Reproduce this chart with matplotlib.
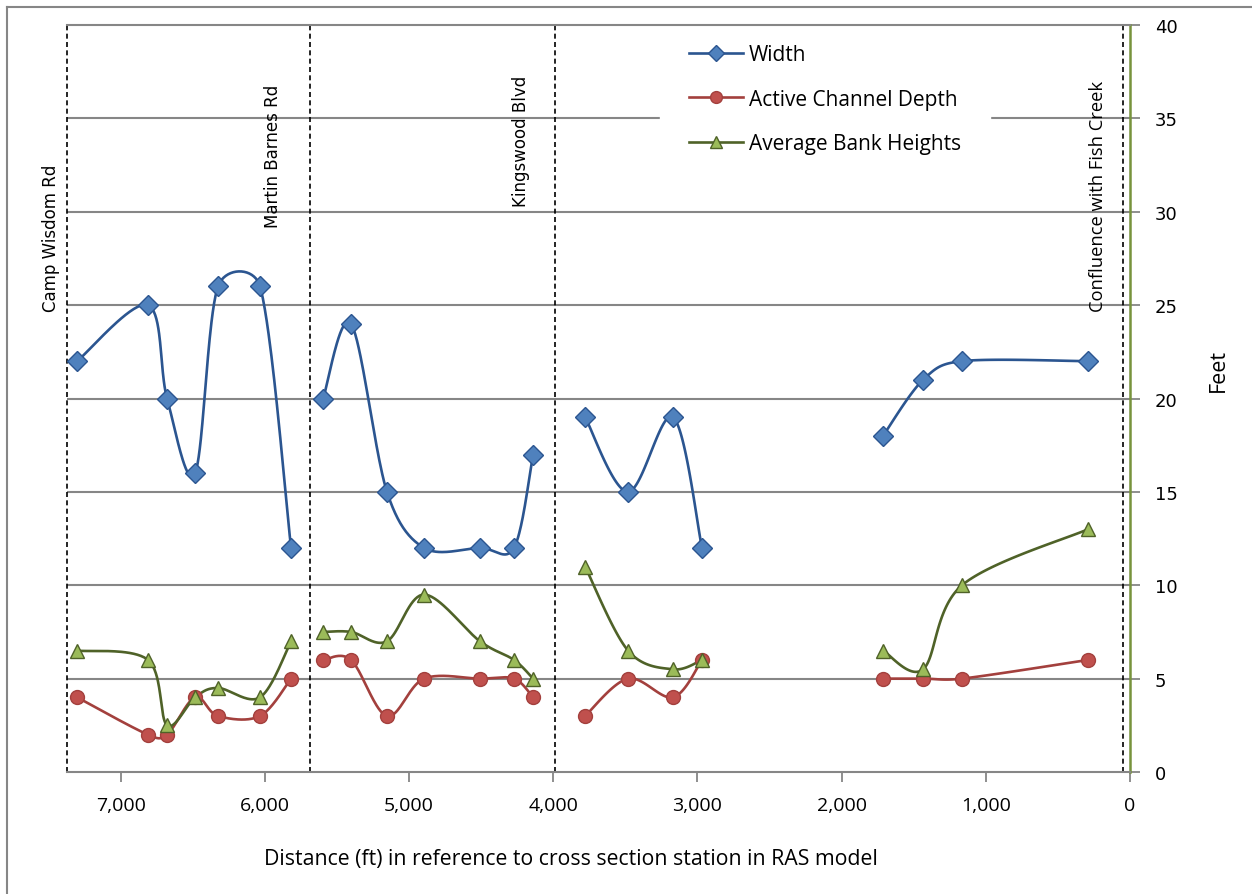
import numpy as np
import matplotlib
matplotlib.use("Agg")
import matplotlib.pyplot as plt
from matplotlib.lines import Line2D

# stations (ft), four reaches separated by gaps
station = [7302, 6810, 6678, 6484, 6325, 6033, 5818,
           5596, 5402, 5153, 4896, 4508, 4272, 4140,
           3779, 3481, 3169, 2968,
           1713, 1435, 1165, 291]
reach_sizes = [7, 7, 4, 4]

width = [22, 25, 20, 16, 26, 26, 12,
         20, 24, 15, 12, 12, 12, 17,
         19, 15, 19, 12,
         18, 21, 22, 22]
depth = [4, 2, 2, 4, 3, 3, 5,
         6, 6, 3, 5, 5, 5, 4,
         3, 5, 4, 6,
         5, 5, 5, 6]
bank = [6.5, 6, 2.5, 4, 4.5, 4, 7,
        7.5, 7.5, 7, 9.5, 7, 6, 5,
        11, 6.5, 5.5, 6,
        6.5, 5.5, 10, 13]

road_names = ["Camp Wisdom Rd", "Martin Barnes Rd", "Kingswood Blvd",
              "Confluence with Fish Creek"]
road_x = [7372, 5690, 3990, 50]

x_ticks = [7000, 6000, 5000, 4000, 3000, 2000, 1000, 0]
y_ticks = [0, 5, 10, 15, 20, 25, 30, 35, 40]

W, H = 1252, 895
AX_L, AX_R, AX_T, AX_B = 67, 1130, 26, 773
X_MAX, Y_MAX = 7372, 40
PX_X = (AX_R - AX_L) / X_MAX   # pixels per ft
PX_Y = (AX_B - AX_T) / Y_MAX   # pixels per foot of height

GRID = "#868686"
SANS = ["Open Sans", "DejaVu Sans"]


def excel_smooth(xs, ys, n=40):
    """Bezier smoothing similar to Excel's 'smoothed line', done in pixel space."""
    pts = np.column_stack([np.asarray(xs, float) * PX_X, np.asarray(ys, float) * PX_Y])
    k = len(pts)
    out = [pts[0]]
    t = np.linspace(0, 1, n)[1:, None]
    for i in range(k - 1):
        p0, p1 = pts[max(i - 1, 0)], pts[i]
        p2, p3 = pts[i + 1], pts[min(i + 2, k - 1)]
        half = np.linalg.norm(p2 - p1) / 2
        v1 = (p2 - p0) / 6
        v2 = (p3 - p1) / 6
        if np.linalg.norm(v1) > half:
            v1 = v1 * half / np.linalg.norm(v1)
        if np.linalg.norm(v2) > half:
            v2 = v2 * half / np.linalg.norm(v2)
        c1, c2 = p1 + v1, p2 - v2
        b = (1 - t) ** 3 * p1 + 3 * (1 - t) ** 2 * t * c1 + 3 * (1 - t) * t ** 2 * c2 + t ** 3 * p2
        out.extend(b)
    out = np.array(out)
    return out[:, 0] / PX_X, out[:, 1] / PX_Y


series = [
    ("Width", width, "#2B5590", "#4F81BD", "#2B5590", "D", 10),
    ("Active Channel Depth", depth, "#A3403D", "#C0504D", "#A3403D", "o", 10),
    ("Average Bank Heights", bank, "#4F6228", "#9BBB59", "#4F6228", "^", 10),
]

fig = plt.figure(figsize=(W / 100, H / 100), dpi=100)
ax = fig.add_axes([AX_L / W, 1 - AX_B / H, (AX_R - AX_L) / W, (AX_B - AX_T) / H])

# horizontal gridlines
for yv in y_ticks[1:-1]:
    ax.axhline(yv, color=GRID, lw=1.5, zorder=1)

# road crossings
for xv in road_x:
    ax.axvline(xv, color="black", lw=1.2, ls=(0, (3, 2)), zorder=2, clip_on=False)

handles = []
for name, vals, lc, fc, ec, mk, ms in series:
    start = 0
    for size in reach_sizes:
        xs = station[start:start + size]
        ys = vals[start:start + size]
        sx, sy = excel_smooth(xs, ys)
        ax.plot(sx, sy, color=lc, lw=1.9, zorder=3, solid_capstyle="round")
        ax.plot(xs, ys, ls="none", marker=mk, ms=ms, mfc=fc, mec=ec, mew=1.0, zorder=4)
        start += size
    handles.append(Line2D([], [], color=lc, lw=1.9, marker=mk, ms=ms - 1.5, mfc=fc, mec=ec, mew=1.0))

ax.set_xlim(X_MAX, 0)
ax.set_ylim(0, Y_MAX)

ax.set_xticks(x_ticks)
ax.set_xticklabels([f"{v:,}" for v in x_ticks], fontsize=14, family=SANS)
ax.set_yticks(y_ticks)
ax.set_yticklabels([str(v) for v in y_ticks], fontsize=13, family="DejaVu Sans")
ax.yaxis.tick_right()
ax.tick_params(axis="x", direction="out", length=7, width=1.3, color=GRID, pad=10)
ax.tick_params(axis="y", direction="out", length=7, width=1.3, color=GRID, pad=11)

ax.spines["left"].set_visible(False)
ax.spines["top"].set_color(GRID)
ax.spines["top"].set_linewidth(1.5)
ax.spines["top"].set_zorder(10)
ax.spines["bottom"].set_color(GRID)
ax.spines["bottom"].set_linewidth(1.5)
ax.spines["right"].set_color("#77933C")
ax.spines["right"].set_linewidth(1.8)

# road labels
label_right = [7420, 5881, 4161, 160]
label_bottom = [24.7, 29.2, 30.3, 24.7]
for i, name in enumerate(road_names):
    fam = SANS if i == 3 else "DejaVu Sans"
    fs = 13.2 if i == 3 else 12
    ax.text(label_right[i], label_bottom[i], name, rotation=90, ha="right", va="bottom",
            fontsize=fs, family=fam, clip_on=False, zorder=5)

leg = ax.legend(handles, [s[0] for s in series], loc="upper left",
                bbox_to_anchor=(660 / W, 1 - 16 / H), bbox_transform=fig.transFigure,
                prop={"family": SANS, "size": 15}, frameon=True, handlelength=2.6,
                handletextpad=0.25, labelspacing=1.13, borderpad=1.4, borderaxespad=0)
leg.set_zorder(8)
leg.get_frame().set_facecolor("white")
leg.get_frame().set_edgecolor("white")
leg.get_frame().set_alpha(1)

fig.text(571 / W, 1 - 860 / H, "Distance (ft) in reference to cross section station in RAS model",
         ha="center", va="center", fontsize=15.3, family=SANS)
fig.text(1218 / W, 1 - 370 / H, "Feet", rotation=90, ha="center", va="center",
         fontsize=15.5, family=SANS)

# chart area border (left and top edges visible)
fig.add_artist(Line2D([6.5 / W, 6.5 / W], [0, 1 - 7.5 / H], color=GRID, lw=1.5))
fig.add_artist(Line2D([6.5 / W, 1], [1 - 7.5 / H, 1 - 7.5 / H], color=GRID, lw=1.5))

fig.savefig("out.png", dpi=100)
